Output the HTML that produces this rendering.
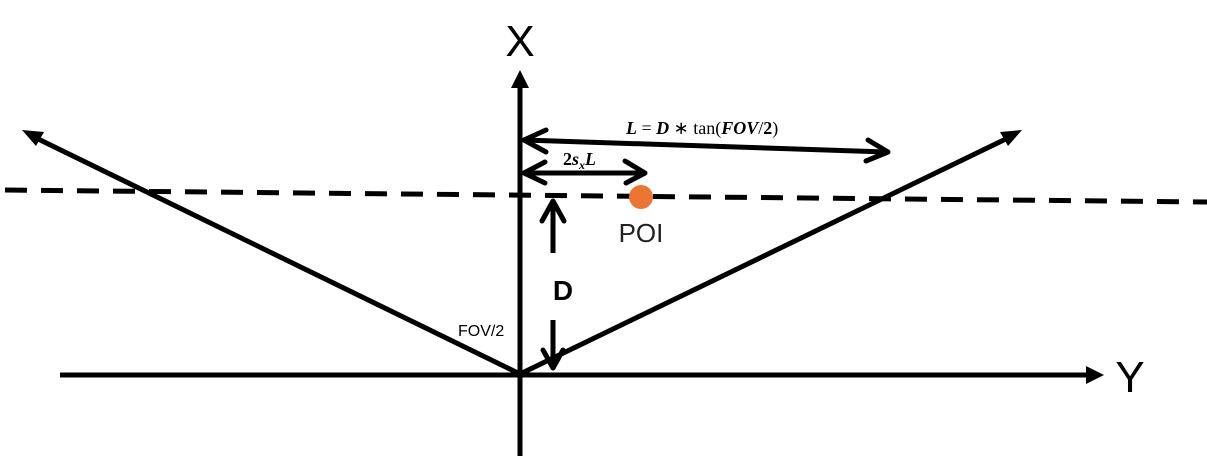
<!DOCTYPE html>
<html><head><style>
html,body{margin:0;padding:0;background:#fff;width:1207px;height:459px;overflow:hidden}
</style></head><body>
<svg width="1207" height="459" viewBox="0 0 1207 459" xmlns="http://www.w3.org/2000/svg">
<g stroke="#000" stroke-width="5" fill="none" stroke-linecap="butt">
  <line x1="520" y1="86" x2="520" y2="456"/>
  <line x1="60" y1="375" x2="1086" y2="375"/>
  <line x1="520" y1="374" x2="32" y2="136"/>
  <line x1="520" y1="374" x2="1012" y2="136"/>
  <line x1="5" y1="190" x2="1207" y2="202" stroke-dasharray="22,14"/>
  <line x1="524" y1="140" x2="886" y2="152"/>
  <polyline points="546,130 524,140 546,152" stroke-linejoin="round" stroke-linecap="round"/>
  <polyline points="868,140 888,152 866,161" stroke-linejoin="round" stroke-linecap="round"/>
  <line x1="524" y1="173" x2="644" y2="173"/>
  <polyline points="545,162 524,173 545,183" stroke-linejoin="round" stroke-linecap="round"/>
  <polyline points="625,161 645,173 626,183" stroke-linejoin="round" stroke-linecap="round"/>
  <line x1="553" y1="200" x2="553" y2="253"/>
  <polyline points="542,221 553,201 564,221" stroke-linejoin="round" stroke-linecap="round"/>
  <line x1="553" y1="320" x2="553" y2="368"/>
  <polyline points="543,350 553,368 563,350" stroke-linejoin="round" stroke-linecap="round"/>
</g>
<g fill="#000">
  <polygon points="520,70 511,88 529,88"/>
  <polygon points="1104,375 1086,366 1086,384"/>
  <polygon points="22,130 44,132 36,146"/>
  <polygon points="1022,130 1000,132 1008,146"/>
</g>
<circle cx="641" cy="197" r="12" fill="#ea7535"/>
<g font-family="'Liberation Sans', sans-serif" fill="#000">
  <text x="520" y="56" font-size="44" text-anchor="middle" font-weight="300">X</text>
  <text x="1130" y="392" font-size="44" text-anchor="middle" font-weight="300">Y</text>
  <text x="641" y="242" font-size="26" text-anchor="middle" fill="#222">POI</text>
  <text x="563" y="300" font-size="28" text-anchor="middle" font-weight="bold">D</text>
  <text x="458" y="336" font-size="16">FOV/2</text>
</g>
<g font-family="'Liberation Serif', serif" fill="#000" font-size="18">
  <text x="626" y="134"><tspan font-weight="bold" font-style="italic">L</tspan> = <tspan font-weight="bold" font-style="italic">D</tspan> ∗ tan(<tspan font-weight="bold" font-style="italic">FOV</tspan>/<tspan font-weight="bold">2</tspan>)</text>
  <text x="563" y="165" font-weight="bold">2<tspan font-style="italic">s</tspan><tspan font-style="italic" font-size="12" dy="4">x</tspan><tspan font-style="italic" dy="-4">L</tspan></text>
</g>
</svg>
</body></html>
